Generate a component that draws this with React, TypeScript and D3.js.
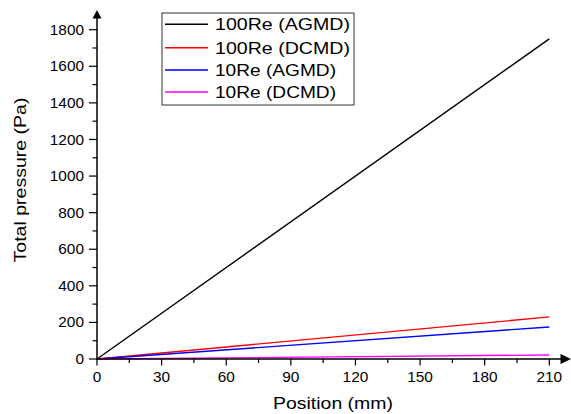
import React from "react";
import * as d3 from "d3";

const positions = [0, 210];
const seriesNames = ["100Re (AGMD)", "100Re (DCMD)", "10Re (AGMD)", "10Re (DCMD)"];
const agmd100 = [0, 1750];
const dcmd100 = [0, 230];
const agmd10 = [0, 175];
const dcmd10 = [0, 22];
const seriesColors = ["#000000", "#ff0000", "#0000ff", "#ff00ff"];
const xTicks = [0, 30, 60, 90, 120, 150, 180, 210];
const yTicks = [0, 200, 400, 600, 800, 1000, 1200, 1400, 1600, 1800];

const W = 571;
const H = 414;
const FONT = "'Liberation Sans', Arial, Helvetica, sans-serif";

export default function App() {
  const x = d3.scaleLinear().domain([0, 210]).range([97, 549.3]);
  const y = d3.scaleLinear().domain([0, 1800]).range([359, 29.7]);
  const allSeries = [agmd100, dcmd100, agmd10, dcmd10];
  const line = d3
    .line<[number, number]>()
    .x((d) => x(d[0]))
    .y((d) => y(d[1]));

  const xMinor = d3.range(15, 210, 30);
  const yMinor = d3.range(100, 1800, 200);
  const x0 = x(0);
  const y0 = y(0);
  const stretch = 1.1;

  return (
    <svg
      width={W}
      height={H}
      style={{ position: "absolute", left: 0, top: 0, background: "#fff" }}
      fontFamily={FONT}
    >
      <rect width={W} height={H} fill="#fff" />
      {/* data lines */}
      {allSeries.map((vals, i) => (
        <path
          key={i}
          d={line(positions.map((p, j) => [p, vals[j]]) as [number, number][]) || ""}
          fill="none"
          stroke={seriesColors[i]}
          strokeWidth={1.4}
        />
      ))}
      {/* axes */}
      <line x1={x0} x2={x0} y1={y0 + 0.5} y2={18} stroke="#000" strokeWidth={1.5} />
      <path d={`M${x0},10 L${x0 - 4.5},18.5 L${x0 + 4.5},18.5 Z`} fill="#000" />
      <line x1={x0 - 0.5} x2={561} y1={y0} y2={y0} stroke="#000" strokeWidth={1.5} />
      <path d={`M571,${y0} L560.5,${y0 - 5} L560.5,${y0 + 5} Z`} fill="#000" />
      {/* y ticks */}
      {yTicks.map((t) => (
        <g key={"yt" + t}>
          <line x1={x0 - 8} x2={x0} y1={y(t)} y2={y(t)} stroke="#000" strokeWidth={1.2} />
          <text
            transform={`translate(84,${y(t)}) scale(${stretch},1)`}
            dy="0.36em"
            textAnchor="end"
            fontSize={14}
            fill="#000"
          >
            {t}
          </text>
        </g>
      ))}
      {yMinor.map((t) => (
        <line key={"ym" + t} x1={x0 - 4.5} x2={x0} y1={y(t)} y2={y(t)} stroke="#000" strokeWidth={1.2} />
      ))}
      {/* x ticks */}
      {xTicks.map((t) => (
        <g key={"xt" + t}>
          <line x1={x(t)} x2={x(t)} y1={y0} y2={y0 + 6.5} stroke="#000" strokeWidth={1.2} />
          <text
            transform={`translate(${x(t)},381.5) scale(${stretch},1)`}
            textAnchor="middle"
            fontSize={14}
            fill="#000"
          >
            {t}
          </text>
        </g>
      ))}
      {xMinor.map((t) => (
        <line key={"xm" + t} x1={x(t)} x2={x(t)} y1={y0} y2={y0 + 4} stroke="#000" strokeWidth={1.2} />
      ))}
      {/* axis titles */}
      <text
        x={333}
        y={409}
        textAnchor="middle"
        fontSize={17}
        textLength={120}
        lengthAdjust="spacingAndGlyphs"
        fill="#000"
      >
        Position (mm)
      </text>
      <text
        transform={`translate(26,180) rotate(-90)`}
        textAnchor="middle"
        fontSize={17}
        textLength={165}
        lengthAdjust="spacingAndGlyphs"
        fill="#000"
      >
        Total pressure (Pa)
      </text>
      {/* legend */}
      <rect x={162} y={13} width={192} height={92} fill="#fff" stroke="#333" strokeWidth={1} />
      {seriesNames.map((name, i) => {
        const ly = [24.3, 47.7, 70, 92][i];
        const widths = [135, 135, 121, 121];
        return (
          <g key={name}>
            <line x1={165} x2={208} y1={ly} y2={ly} stroke={seriesColors[i]} strokeWidth={1.4} />
            <text
              x={215}
              y={ly + 6}
              fontSize={17}
              textLength={widths[i]}
              lengthAdjust="spacingAndGlyphs"
              fill="#000"
            >
              {name}
            </text>
          </g>
        );
      })}
    </svg>
  );
}
